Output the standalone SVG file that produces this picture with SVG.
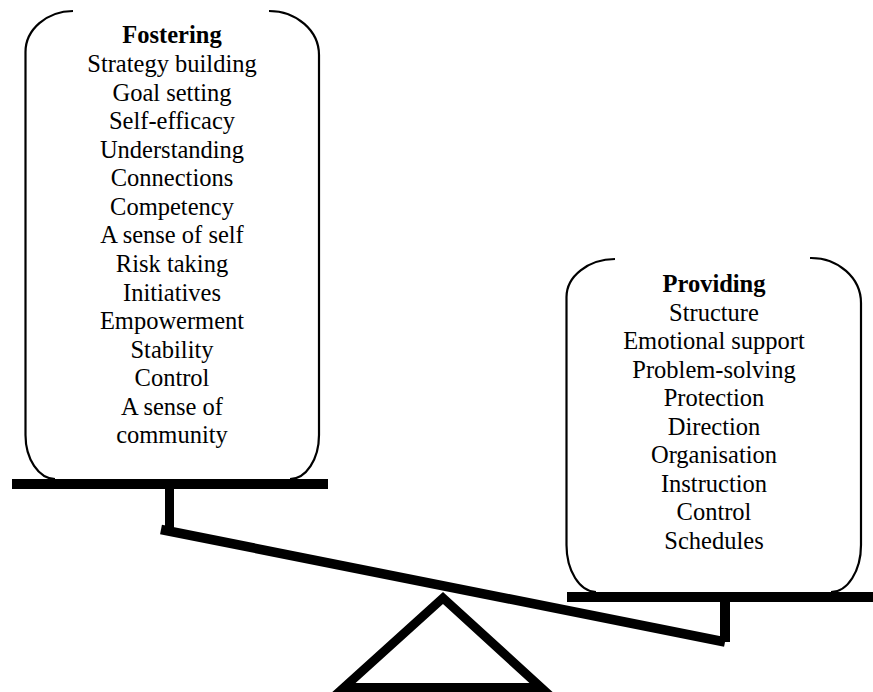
<svg xmlns="http://www.w3.org/2000/svg" width="873" height="692" viewBox="0 0 873 692">
<style>
.box{fill:none;stroke:#000;stroke-width:2.2}
.t{font-family:"Liberation Serif","Times New Roman",serif;font-size:24.5px;fill:#000;text-anchor:middle}
.h{font-weight:bold}
.bar{fill:#000}
</style>
<rect width="873" height="692" fill="#fff"/>
<g id="fostering">
<path class="box" d="M73,11 A48,41 0 0 0 25.5,52 L25.5,435 A30,44 0 0 0 55,479"/>
<path class="box" d="M269,11 A50,44 0 0 1 319,55 L319,435 A29,44 0 0 1 290,479"/>
<text class="t h" x="172" y="43">Fostering</text>
<text class="t" x="172" y="72">Strategy building</text>
<text class="t" x="172" y="100.5">Goal setting</text>
<text class="t" x="172" y="129">Self-efficacy</text>
<text class="t" x="172" y="157.5">Understanding</text>
<text class="t" x="172" y="186">Connections</text>
<text class="t" x="172" y="214.5">Competency</text>
<text class="t" x="172" y="243">A sense of self</text>
<text class="t" x="172" y="272">Risk taking</text>
<text class="t" x="172" y="300.5">Initiatives</text>
<text class="t" x="172" y="329">Empowerment</text>
<text class="t" x="172" y="357.5">Stability</text>
<text class="t" x="172" y="386">Control</text>
<text class="t" x="172" y="414.5">A sense of</text>
<text class="t" x="172" y="443">community</text>
</g>
<g id="providing">
<path class="box" d="M615,259 A49,38 0 0 0 566.5,297 L566.5,545 A30,47 0 0 0 596,592"/>
<path class="box" d="M810,258 A50,45 0 0 1 861,303 L861,545 A30,47 0 0 1 831,592"/>
<text class="t h" x="714" y="292">Providing</text>
<text class="t" x="714" y="320.5">Structure</text>
<text class="t" x="714" y="349">Emotional support</text>
<text class="t" x="714" y="377.5">Problem-solving</text>
<text class="t" x="714" y="406">Protection</text>
<text class="t" x="714" y="434.5">Direction</text>
<text class="t" x="714" y="463">Organisation</text>
<text class="t" x="714" y="491.5">Instruction</text>
<text class="t" x="714" y="520">Control</text>
<text class="t" x="714" y="548.5">Schedules</text>
</g>
<g id="seesaw">
<rect class="bar" x="12" y="479" width="316" height="10"/>
<rect class="bar" x="165" y="485" width="9" height="44"/>
<rect class="bar" x="567" y="592" width="306" height="10"/>
<rect class="bar" x="720" y="598" width="10" height="44"/>
<line x1="161" y1="529.5" x2="725" y2="642" stroke="#000" stroke-width="9.5"/>
<polygon points="443,598 541,687.5 344,687.5" fill="none" stroke="#000" stroke-width="9" stroke-linejoin="miter"/>
</g>
</svg>
